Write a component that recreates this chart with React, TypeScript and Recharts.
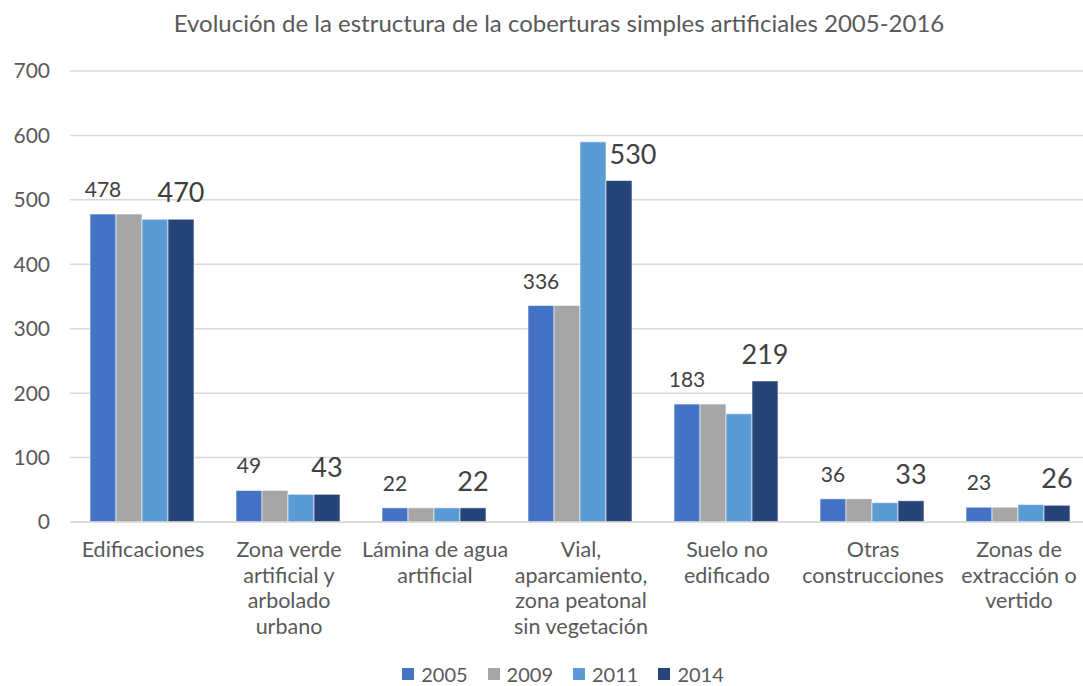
import React from 'react';
import { BarChart, Bar, XAxis, YAxis, CartesianGrid, Legend, LabelList } from 'recharts';

const categories = [
  'Edificaciones',
  'Zona verde\nartificial y\narbolado\nurbano',
  'Lámina de agua\nartificial',
  'Vial,\naparcamiento,\nzona peatonal\nsin vegetación',
  'Suelo no\nedificado',
  'Otras\nconstrucciones',
  'Zonas de\nextracción o\nvertido',
];
const years = ['2005', '2009', '2011', '2014'];
const values2005 = [478, 49, 22, 336, 183, 36, 23];
const values2009 = [478, 49, 22, 336, 183, 36, 23];
const values2011 = [470, 43, 22, 590, 168, 30, 27];
const values2014 = [470, 43, 22, 530, 219, 33, 26];
const yTicks = [0, 100, 200, 300, 400, 500, 600, 700];

const COLORS: Record<string, string> = {
  '2005': '#4472C4',
  '2009': '#A5A5A5',
  '2011': '#5B9BD5',
  '2014': '#264478',
};

const data = categories.map((name, i) => ({
  name,
  '2005': values2005[i],
  '2009': values2009[i],
  '2011': values2011[i],
  '2014': values2014[i],
}));

const FONT = 'Lato, "Open Sans", sans-serif';
const TEXT = '#595959';

const CategoryTick = ({ x, y, payload }: any) => {
  const lines = String(payload.value).split('\n');
  return (
    <text x={x} y={y} textAnchor="middle" fill={TEXT} fontFamily={FONT} fontSize={21.5}>
      {lines.map((line, i) => (
        <tspan key={i} x={x} dy={i === 0 ? 27 : 25.7}>
          {line}
        </tspan>
      ))}
    </text>
  );
};

// 2014 label slides right when the 2011 bar next to it is clearly taller
const Label2014 = ({ x, y, width, value, index }: any) => {
  const shift = values2011[index] - values2014[index] > 15 ? 14 : 0;
  return (
    <text
      x={x + width / 2 + shift}
      y={y - 17}
      textAnchor="middle"
      fill="#404040"
      fontFamily={FONT}
      fontSize={27}
    >
      {value}
    </text>
  );
};

const LegendContent = () => (
  <div style={{ height: 24, display: 'flex', justifyContent: 'center', alignItems: 'center', gap: 20, paddingLeft: 34, fontFamily: FONT, fontSize: 20, color: TEXT }}>
    {years.map((y) => (
      <div key={y} style={{ display: 'flex', alignItems: 'center', gap: 7 }}>
        <span style={{ width: 12, height: 12, background: COLORS[y], display: 'inline-block' }} />
        <span>{y}</span>
      </div>
    ))}
  </div>
);

export default function App() {
  return (
    <div style={{ position: 'absolute', left: 0, top: 0, width: 1083, height: 686, background: '#fff', overflow: 'hidden' }}>
      <div
        style={{
          position: 'absolute',
          top: 8,
          left: 0,
          width: 1118,
          textAlign: 'center',
          fontFamily: FONT,
          fontSize: 24,
          color: TEXT,
        }}
      >
        Evolución de la estructura de la coberturas simples artificiales 2005-2016
      </div>
      <BarChart
        width={1100}
        height={686}
        data={data}
        margin={{ top: 71, right: 8, left: 0, bottom: 0 }}
        barCategoryGap="13.7%"
        barGap={0}
      >
        <CartesianGrid vertical={false} stroke="#d9d9d9" strokeWidth={1.5} />
        <XAxis
          dataKey="name"
          interval={0}
          height={140}
          tickLine={false}
          axisLine={{ stroke: '#d9d9d9', strokeWidth: 1.5 }}
          tick={<CategoryTick />}
        />
        <YAxis
          width={70}
          domain={[0, 700]}
          ticks={yTicks}
          axisLine={false}
          tickLine={false}
          tickMargin={14}
          tick={{ fill: TEXT, fontFamily: FONT, fontSize: 21 }}
        />
        <Legend verticalAlign="bottom" content={<LegendContent />} />
        <Bar dataKey="2005" fill={COLORS['2005']} stroke="#fff" strokeWidth={0.6} isAnimationActive={false}>
          <LabelList dataKey="2005" position="top" offset={17} fill="#404040" fontFamily={FONT} fontSize={21} />
        </Bar>
        <Bar dataKey="2009" fill={COLORS['2009']} stroke="#fff" strokeWidth={0.6} isAnimationActive={false} />
        <Bar dataKey="2011" fill={COLORS['2011']} stroke="#fff" strokeWidth={0.6} isAnimationActive={false} />
        <Bar dataKey="2014" fill={COLORS['2014']} stroke="#fff" strokeWidth={0.6} isAnimationActive={false}>
          <LabelList dataKey="2014" content={<Label2014 />} />
        </Bar>
      </BarChart>
    </div>
  );
}
